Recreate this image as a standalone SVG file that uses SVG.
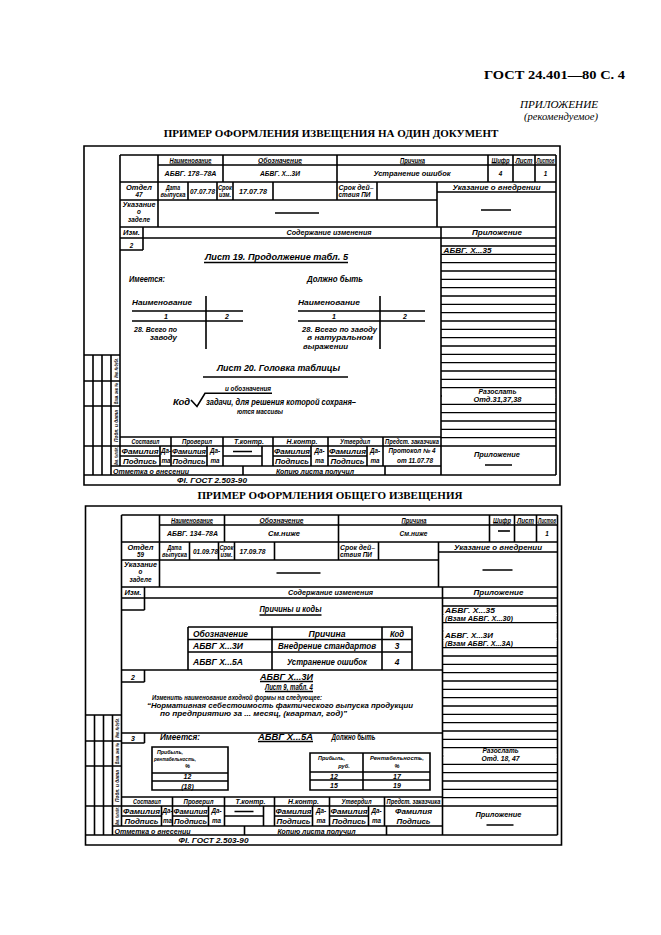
<svg xmlns="http://www.w3.org/2000/svg" xmlns:xlink="http://www.w3.org/1999/xlink" width="661" height="935" viewBox="0 0 661 935">
<style>
.ln{fill:none;stroke:#000;stroke-width:1.6}
.lt{stroke-width:1.3}
.t{font-family:"Liberation Sans",Arial,sans-serif;font-style:italic;font-weight:bold;fill:#000}
.c{text-anchor:middle}
.s5{font-size:5px}
.s55{font-size:5.6px}
.s6{font-size:6.3px}
.s7{font-size:7px}
.s8{font-size:8.3px}
.s9{font-size:9.5px}
.h{font-family:"Liberation Serif","Times New Roman",serif;fill:#000}
.u{text-decoration:underline}
.w{fill:#fff;stroke:none}
</style>
<defs>
<g id="form">
<path class="ln" d="M84 146H560V485H84Z"/>
<path class="ln" d="M120 155H556 M158 165H556 M120 182H556 M437 192H556 M120 200H437 M120 227H556 M120 238H556 M120 250H143 M120 437H441 M84 446H556 M120 456H160 M171 456H207 M223 456H262 M273 456H311 M328 456H367 M111 466H441 M84 475H556 M84 355H120 M84 381H120 M84 406H120 M120 155V466 M556 155V475 M158 155V227 M223 155V182 M337 155V200 M488 155V182 M513 155V182 M535 155V182 M188 182V200 M217 182V200 M233 182V200 M273 182V200 M377 182V200 M437 182V227 M143 227V250 M441 227V475 M171 437V466 M223 437V466 M273 437V466 M328 437V466 M383 437V466 M160 446V466 M207 446V466 M262 446V466 M311 446V466 M367 446V466 M243 466V475 M385 466V475 M93 355V475 M102 355V475 M111 355V475 M275 213H319 M481 210H511 M485 465H512 M233 451.5H252"/>
<path class="ln lt" d="M441 246H556 M441 254.33H556 M441 262.67H556 M441 271H556 M441 279.33H556 M441 287.67H556 M441 296H556 M441 304.33H556 M441 312.67H556 M441 321H556 M441 329.33H556 M441 337.67H556 M441 346H556 M441 354.33H556 M441 362.67H556 M441 371H556 M441 379.33H556 M441 387.67H556 M441 396H556 M441 404.33H556 M441 412.67H556 M441 421H556 M441 429.33H556 M441 437.67H556"/>
<g class="t s6 c">
<text class="u" x="190.5" y="162.5" textLength="42" lengthAdjust="spacingAndGlyphs">Наименование</text>
<text class="u" x="280" y="162.5" textLength="44" lengthAdjust="spacingAndGlyphs">Обозначение</text>
<text class="u" x="412.5" y="162.5" textLength="25" lengthAdjust="spacingAndGlyphs">Причина</text>
<text class="u" x="500.5" y="162.5" textLength="18" lengthAdjust="spacingAndGlyphs">Шифр</text>
<text class="u" x="524" y="162.5" textLength="17" lengthAdjust="spacingAndGlyphs">Лист</text>
<text class="u" x="545.5" y="162.5" textLength="18" lengthAdjust="spacingAndGlyphs">Листов</text>
<text x="139" y="189.5" textLength="26" lengthAdjust="spacingAndGlyphs">Отдел</text>
<text x="173" y="189.5" textLength="14" lengthAdjust="spacingAndGlyphs">Дата</text>
<text x="173" y="196.5" textLength="25" lengthAdjust="spacingAndGlyphs">выпуска</text>
<text x="225" y="189.5" textLength="14" lengthAdjust="spacingAndGlyphs">Срок</text>
<text x="225" y="196.5" textLength="12" lengthAdjust="spacingAndGlyphs">изм.</text>
<text x="496.5" y="189.5" textLength="88" lengthAdjust="spacingAndGlyphs">Указание о внедрении</text>
<text x="139" y="207" textLength="33" lengthAdjust="spacingAndGlyphs">Указание</text>
<text x="139" y="214.3">о</text>
<text x="139" y="221.8" textLength="22" lengthAdjust="spacingAndGlyphs">заделе</text>
<text x="131.5" y="235" textLength="17" lengthAdjust="spacingAndGlyphs">Изм.</text>
<text x="329" y="235" textLength="85" lengthAdjust="spacingAndGlyphs">Содержание изменения</text>
<text x="497" y="235" textLength="50" lengthAdjust="spacingAndGlyphs">Приложение</text>
<text x="145.5" y="444" textLength="28" lengthAdjust="spacingAndGlyphs">Составил</text>
<text x="197" y="444" textLength="30" lengthAdjust="spacingAndGlyphs">Проверил</text>
<text x="249" y="444" textLength="30" lengthAdjust="spacingAndGlyphs">Т.контр.</text>
<text x="302" y="444" textLength="31" lengthAdjust="spacingAndGlyphs">Н.контр.</text>
<text x="355" y="444" textLength="30" lengthAdjust="spacingAndGlyphs">Утвердил</text>
<text x="412" y="444" textLength="54" lengthAdjust="spacingAndGlyphs">Предст. заказчика</text>
<text x="140" y="453.5" textLength="37" lengthAdjust="spacingAndGlyphs">Фамилия</text>
<text x="140" y="463.5" textLength="34" lengthAdjust="spacingAndGlyphs">Подпись</text>
<text x="189" y="453.5" textLength="34" lengthAdjust="spacingAndGlyphs">Фамилия</text>
<text x="189" y="463.5" textLength="33" lengthAdjust="spacingAndGlyphs">Подпись</text>
<text x="292" y="453.5" textLength="36" lengthAdjust="spacingAndGlyphs">Фамилия</text>
<text x="292" y="463.5" textLength="34" lengthAdjust="spacingAndGlyphs">Подпись</text>
<text x="347.5" y="453.5" textLength="37" lengthAdjust="spacingAndGlyphs">Фамилия</text>
<text x="347.5" y="463.5" textLength="34" lengthAdjust="spacingAndGlyphs">Подпись</text>
<text x="166" y="452.5">Да-</text><text x="166" y="462.5">та</text>
<text x="215" y="452.5">Да-</text><text x="215" y="462.5">та</text>
<text x="319.5" y="452.5">Да-</text><text x="319.5" y="462.5">та</text>
<text x="375" y="452.5">Да-</text><text x="375" y="462.5">та</text>
<text x="497" y="457" textLength="46" lengthAdjust="spacingAndGlyphs">Приложение</text>
</g>
<g class="t s6">
<text x="338.5" y="189.5" textLength="35" lengthAdjust="spacingAndGlyphs">Срок дей–</text>
<text x="338.5" y="196.5" textLength="32" lengthAdjust="spacingAndGlyphs">ствия ПИ</text>
<text x="113" y="473.5" textLength="76" lengthAdjust="spacingAndGlyphs">Отметка о внесении</text>
<text x="276" y="473.5" textLength="78" lengthAdjust="spacingAndGlyphs">Копию листа получил</text>
<text x="177" y="482.5" textLength="70" lengthAdjust="spacingAndGlyphs">ФI. ГОСТ 2.503-90</text>
</g>
<g class="t s5 c">
<text transform="translate(117.5 368) rotate(-90)" textLength="20" lengthAdjust="spacingAndGlyphs">Инв. № дубл.</text>
<text transform="translate(117.5 393.5) rotate(-90)" textLength="21" lengthAdjust="spacingAndGlyphs">Взам. инв. №</text>
<text transform="translate(117.5 426) rotate(-90)" textLength="32" lengthAdjust="spacingAndGlyphs">Подп. и дата</text>
<text transform="translate(117.5 456) rotate(-90)" textLength="18" lengthAdjust="spacingAndGlyphs">Инв. № подл.</text>
</g>
</g>
</defs>

<g id="header">
<text class="h" x="625" y="79" text-anchor="end" font-size="13.5" font-weight="bold" textLength="141" lengthAdjust="spacingAndGlyphs">ГОСТ 24.401—80 С. 4</text>
<text class="h" x="520" y="108" font-size="10.5" font-style="italic" textLength="78" lengthAdjust="spacingAndGlyphs">ПРИЛОЖЕНИЕ</text>
<text class="h" x="524" y="120" font-size="9.5" font-style="italic" textLength="74" lengthAdjust="spacingAndGlyphs">(рекомендуемое)</text>
<text class="h" x="331" y="137" text-anchor="middle" font-size="11" font-weight="bold">ПРИМЕР ОФОРМЛЕНИЯ ИЗВЕЩЕНИЯ НА ОДИН ДОКУМЕНТ</text>
<text class="h" x="330" y="499" text-anchor="middle" font-size="11" font-weight="bold">ПРИМЕР ОФОРМЛЕНИЯ ОБЩЕГО ИЗВЕЩЕНИЯ</text>
</g>

<g id="form1">
<use xlink:href="#form" href="#form"/>
<rect class="w" x="442" y="394.5" width="113.2" height="3"/>
<g class="t s6 c">
<text x="190.5" y="176" textLength="52" lengthAdjust="spacingAndGlyphs">АБВГ. 178–78А</text>
<text x="280" y="176" textLength="40" lengthAdjust="spacingAndGlyphs">АБВГ. Х...3И</text>
<text x="412" y="176" textLength="77" lengthAdjust="spacingAndGlyphs">Устранение ошибок</text>
<text x="500.5" y="176">4</text>
<text x="545.5" y="176">1</text>
<text x="139" y="196.5">47</text>
<text x="202.5" y="193.5" textLength="25" lengthAdjust="spacingAndGlyphs">07.07.78</text>
<text x="253" y="193.5" textLength="28" lengthAdjust="spacingAndGlyphs">17.07.78</text>
<text x="131.5" y="247.5">2</text>
<text x="497.5" y="394" textLength="38" lengthAdjust="spacingAndGlyphs">Разослать</text>
<text x="497.5" y="402" textLength="48" lengthAdjust="spacingAndGlyphs">Отд.31,37,38</text>
<text x="412" y="453" textLength="47" lengthAdjust="spacingAndGlyphs">Протокол № 4</text>
<text x="415" y="463" textLength="36" lengthAdjust="spacingAndGlyphs">от 11.07.78</text>
</g>
<text class="t s6" x="443.5" y="252.5" textLength="48" lengthAdjust="spacingAndGlyphs">АБВГ. Х...35</text>
<g id="f1-content">
<path class="ln" d="M204 262.5H348 M206 296V349 M132 311H243 M132 321H243 M380 296V349 M298 311H425 M298 321H425 M203 377H348 M191 400L197 406.5L205 393.3H272"/>
<g class="t s9">
<text x="205" y="259.5" textLength="143" lengthAdjust="spacingAndGlyphs">Лист 19. Продолжение табл. 5</text>
<text x="129" y="281.5" textLength="36" lengthAdjust="spacingAndGlyphs">Имеется:</text>
<text x="307" y="281.5" textLength="56" lengthAdjust="spacingAndGlyphs">Должно быть</text>
<text x="217" y="371" textLength="123" lengthAdjust="spacingAndGlyphs">Лист 20. Головка таблицы</text>
</g>
<g class="t s7">
<text x="132" y="304.5" textLength="60" lengthAdjust="spacingAndGlyphs">Наименование</text>
<text x="298" y="304.5" textLength="62" lengthAdjust="spacingAndGlyphs">Наименование</text>
<text x="134" y="332" textLength="43" lengthAdjust="spacingAndGlyphs">28. Всего по</text>
<text x="150" y="339.5" textLength="27" lengthAdjust="spacingAndGlyphs">заводу</text>
<text x="302" y="332" textLength="75" lengthAdjust="spacingAndGlyphs">28. Всего по заводу</text>
<text x="307" y="340" textLength="66" lengthAdjust="spacingAndGlyphs">в натуральном</text>
<text x="303" y="348.5" textLength="45" lengthAdjust="spacingAndGlyphs">выражении</text>
<text x="225" y="390.5" textLength="46" lengthAdjust="spacingAndGlyphs">и обозначения</text>
<text x="237" y="414" textLength="46" lengthAdjust="spacingAndGlyphs">ются массивы</text>
</g>
<g class="t s8">
<text x="173" y="404.5" textLength="17" lengthAdjust="spacingAndGlyphs">Код</text>
<text x="206" y="404.5" textLength="150" lengthAdjust="spacingAndGlyphs">задачи, для решения которой сохраня–</text>
</g>
<g class="t s7 c">
<text x="166" y="319">1</text>
<text x="227" y="319">2</text>
<text x="334" y="319">1</text>
<text x="405" y="319">2</text>
</g>
</g>
</g>

<g id="form2" transform="translate(1.5 360)">
<use xlink:href="#form" href="#form"/>
<rect class="w" x="442" y="252.8" width="113.2" height="3"/>
<rect class="w" x="442" y="269.5" width="113.2" height="3"/>
<rect class="w" x="442" y="277.8" width="113.2" height="3"/>
<rect class="w" x="442" y="394.5" width="113.2" height="3"/>
<path class="ln" d="M496.5 171H508.5"/>
<g class="t s6 c">
<text x="191" y="175.5" textLength="51" lengthAdjust="spacingAndGlyphs">АБВГ. 134–78А</text>
<text x="282.5" y="175.5" textLength="32" lengthAdjust="spacingAndGlyphs">См.ниже</text>
<text x="412" y="175.5" textLength="28" lengthAdjust="spacingAndGlyphs">См.ниже</text>
<text x="545.5" y="175.5">1</text>
<text x="139" y="196.5">59</text>
<text x="204" y="193.5" textLength="25" lengthAdjust="spacingAndGlyphs">01.09.78</text>
<text x="251" y="193.5" textLength="26" lengthAdjust="spacingAndGlyphs">17.09.78</text>
<text x="499" y="392.5" textLength="36" lengthAdjust="spacingAndGlyphs">Разослать</text>
<text x="499" y="400.8" textLength="38" lengthAdjust="spacingAndGlyphs">Отд. 18, 47</text>
<text x="412" y="453.5" textLength="37" lengthAdjust="spacingAndGlyphs">Фамилия</text>
<text x="412" y="463.5" textLength="34" lengthAdjust="spacingAndGlyphs">Подпись</text>
</g>
<g class="t s6">
<text x="443.5" y="252.5" textLength="50" lengthAdjust="spacingAndGlyphs">АБВГ. Х...35</text>
<text x="443.5" y="260.5" textLength="68" lengthAdjust="spacingAndGlyphs">(Взам АБВГ. Х...30)</text>
<text x="443.5" y="277.5" textLength="48" lengthAdjust="spacingAndGlyphs">АБВГ. Х...3И</text>
<text x="443.5" y="285.5" textLength="68" lengthAdjust="spacingAndGlyphs">(Взам АБВГ. Х...3А)</text>
</g>
<g id="f2-content">
<path class="ln" d="M258 255H320 M186.5 267H410.5V310 M186.5 279.5H410.5 M186.5 292H410.5 M186.5 267V310 M270.5 267V310 M380.5 267V310 M120 310H441 M143 310V322 M120 322H143 M258.5 321.5H311.5 M263.5 331.5H311.5 M120 373H441 M143 373V383 M120 383H143 M256.5 381.5H311.5 M150.5 387H226.5V430H150.5Z M150.5 413H226.5 M150.5 421H226.5 M308.5 393H428.5V430H308.5Z M361.5 393V430 M308.5 412H428.5 M308.5 420H428.5"/>
<g class="t s8">
<text x="258" y="252" textLength="62" lengthAdjust="spacingAndGlyphs">Причины и коды</text>
<text x="191.5" y="276.5" textLength="55" lengthAdjust="spacingAndGlyphs">Обозначение</text>
<text x="191.5" y="289" textLength="50" lengthAdjust="spacingAndGlyphs">АБВГ Х...3И</text>
<text x="191.5" y="304.5" textLength="50" lengthAdjust="spacingAndGlyphs">АБВГ Х...5А</text>
<text x="258.5" y="319.5" textLength="53" lengthAdjust="spacingAndGlyphs">АБВГ Х...3И</text>
<text x="263.5" y="329.5" textLength="48" lengthAdjust="spacingAndGlyphs">Лист 9, табл. 4</text>
<text x="158.5" y="380" textLength="40" lengthAdjust="spacingAndGlyphs">Имеется:</text>
<text x="256.5" y="380" textLength="55" lengthAdjust="spacingAndGlyphs">АБВГ Х...5А</text>
<text x="330" y="380" textLength="44" lengthAdjust="spacingAndGlyphs">Должно быть</text>
</g>
<g class="t s7">
<text x="150.5" y="339.5" textLength="170" lengthAdjust="spacingAndGlyphs">Изменить наименование входной формы на следующее:</text>
<text x="145.5" y="347.5" textLength="266" lengthAdjust="spacingAndGlyphs">“Нормативная себестоимость фактического выпуска продукции</text>
<text x="158.5" y="355.5" textLength="187" lengthAdjust="spacingAndGlyphs">по предприятию за ... месяц, (квартал, год)”</text>
</g>
<g class="t s8 c">
<text x="325.5" y="276.5" textLength="37" lengthAdjust="spacingAndGlyphs">Причина</text>
<text x="395.5" y="276.5" textLength="14" lengthAdjust="spacingAndGlyphs">Код</text>
<text x="325.5" y="289" textLength="98" lengthAdjust="spacingAndGlyphs">Внедрение стандартов</text>
<text x="395.5" y="289">3</text>
<text x="325.5" y="304.5" textLength="80" lengthAdjust="spacingAndGlyphs">Устранение ошибок</text>
<text x="395.5" y="304.5">4</text>
</g>
<g class="t s7 c">
<text x="131.5" y="319.5">2</text>
<text x="131.5" y="381">3</text>
</g>
<g class="t s55">
<text x="155.5" y="393.5" textLength="26" lengthAdjust="spacingAndGlyphs">Прибыль,</text>
<text x="152.5" y="400.5" textLength="42" lengthAdjust="spacingAndGlyphs">рентабельность,</text>
</g>
<g class="t s55 c">
<text x="186" y="408">%</text>
<text x="330" y="399.5" textLength="27" lengthAdjust="spacingAndGlyphs">Прибыль,</text>
<text x="342.5" y="407.5">руб.</text>
<text x="395.5" y="399.5" textLength="54" lengthAdjust="spacingAndGlyphs">Рентабельность,</text>
<text x="395.5" y="407.5">%</text>
</g>
<g class="t s7 c">
<text x="186" y="419">12</text>
<text x="186" y="428.5">(18)</text>
<text x="332.5" y="418.5">12</text>
<text x="395.5" y="418.5">17</text>
<text x="332.5" y="428">15</text>
<text x="395.5" y="428">19</text>
</g>
</g>
</g>
</svg>
